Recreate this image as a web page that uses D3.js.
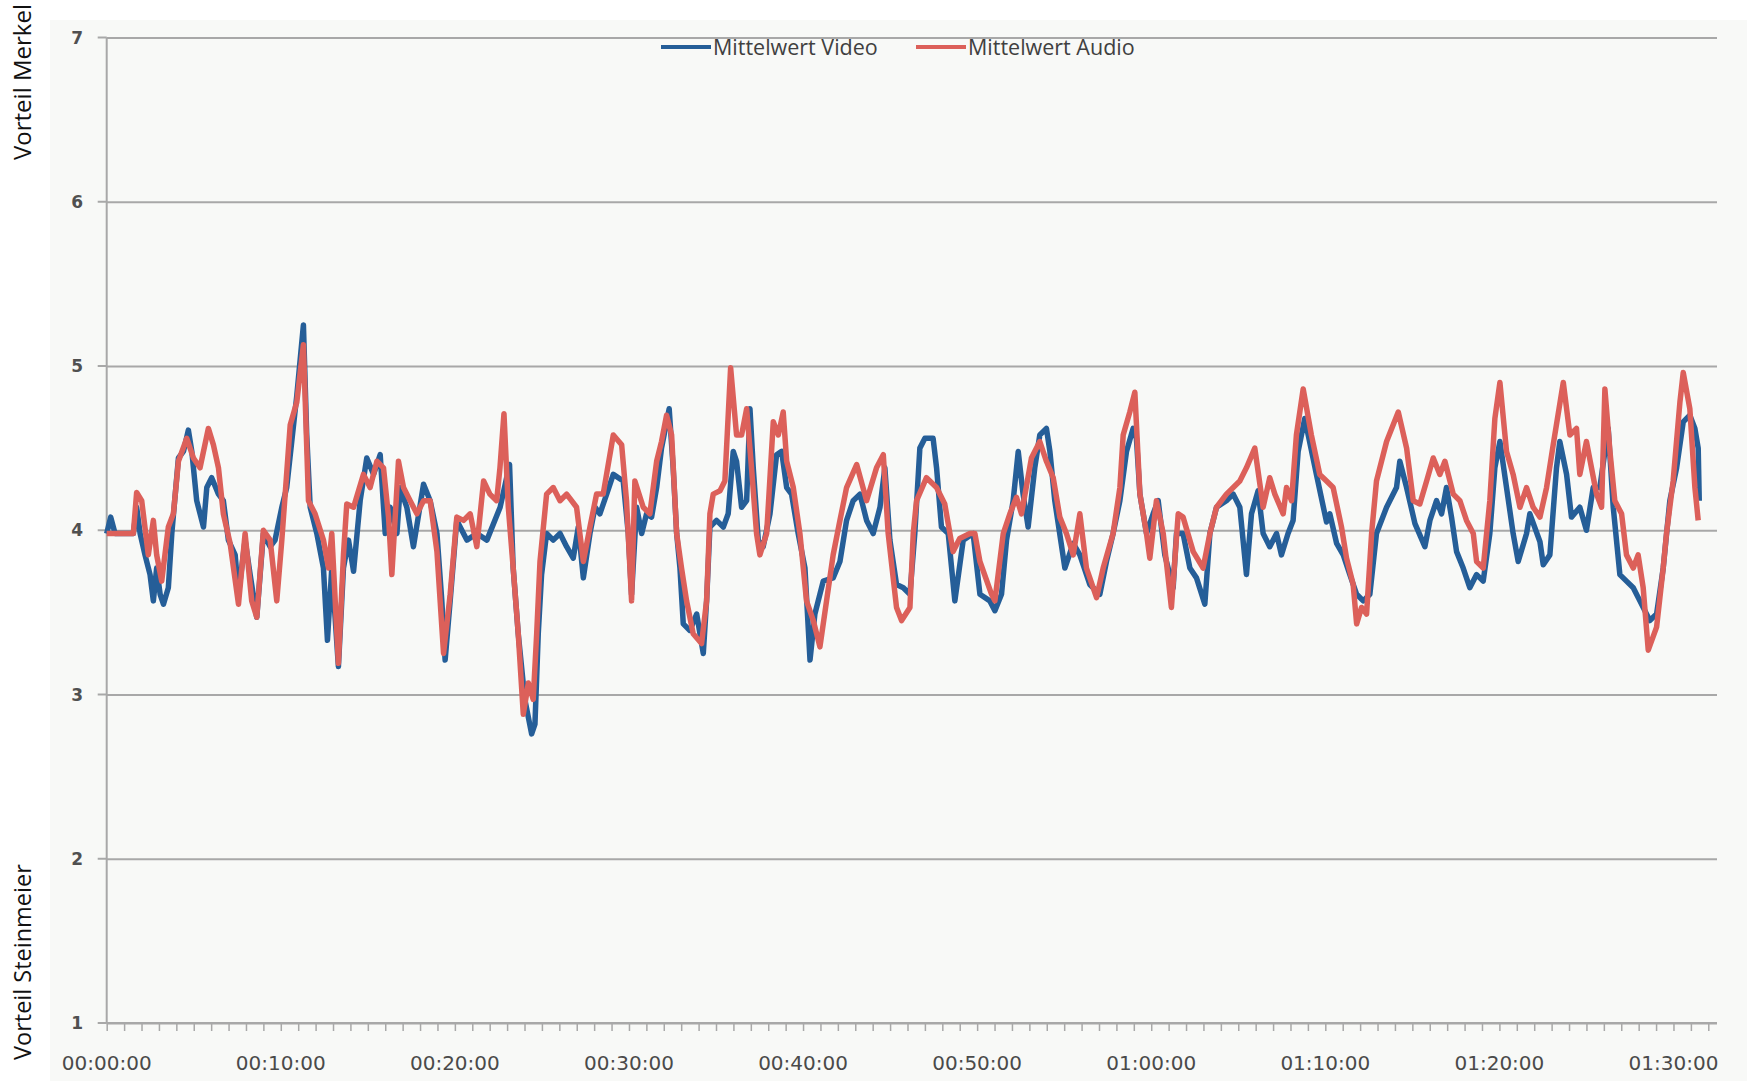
<!DOCTYPE html>
<html>
<head>
<meta charset="utf-8">
<script src="https://cdn.jsdelivr.net/npm/d3@7"></script>
<style>
  body { margin: 0; background: #fff; }
  svg { display: block; }
</style>
</head>
<body>
<svg id="chart"></svg>
<script>
// minutes since start, mean rating (1 = Steinmeier .. 7 = Merkel)
const video = [
  [0, 3.98], [0.23, 4.08], [0.48, 3.98], [1.53, 3.98], [1.72, 4.14], [1.92, 3.98], [2.2, 3.85], [2.49, 3.73],
  [2.68, 3.57], [2.87, 3.77], [3.07, 3.61], [3.26, 3.55], [3.54, 3.65], [3.74, 3.98], [4.12, 4.44], [4.41, 4.48],
  [4.69, 4.61], [4.89, 4.48], [5.17, 4.18], [5.56, 4.02], [5.75, 4.26], [6.03, 4.32], [6.42, 4.22], [6.7, 4.18],
  [6.99, 3.94], [7.38, 3.85], [7.57, 3.61], [7.95, 3.94], [8.24, 3.73], [8.62, 3.47], [9.0, 3.98], [9.39, 3.9],
  [9.67, 3.94], [10.06, 4.14], [10.34, 4.26], [10.63, 4.54], [10.92, 4.82], [11.3, 5.25], [11.49, 4.58], [11.69, 4.14],
  [12.07, 3.98], [12.45, 3.77], [12.68, 3.33], [12.93, 3.77], [13.31, 3.17], [13.6, 3.77], [13.89, 3.94], [14.18, 3.75],
  [14.56, 4.18], [14.94, 4.44], [15.33, 4.34], [15.71, 4.46], [16.0, 3.98], [16.28, 4.14], [16.67, 3.98], [16.86, 4.26],
  [17.24, 4.14], [17.62, 3.9], [18.2, 4.28], [18.58, 4.18], [18.97, 3.98], [19.25, 3.57], [19.44, 3.21], [19.73, 3.57],
  [20.11, 4.06], [20.69, 3.94], [21.26, 3.98], [21.84, 3.94], [22.6, 4.14], [23.14, 4.4], [23.35, 3.77], [23.64, 3.37],
  [24.02, 2.97], [24.41, 2.76], [24.6, 2.82], [24.79, 3.37], [24.98, 3.73], [25.27, 3.98], [25.65, 3.94], [26.04, 3.98],
  [26.42, 3.9], [26.8, 3.83], [27.09, 4.02], [27.38, 3.71], [27.76, 3.98], [28.05, 4.14], [28.33, 4.1], [28.72, 4.22],
  [29.1, 4.34], [29.67, 4.3], [29.96, 3.98], [30.15, 3.61], [30.44, 4.14], [30.73, 3.98], [31.01, 4.1], [31.3, 4.08],
  [31.59, 4.26], [31.87, 4.5], [32.31, 4.74], [32.54, 4.38], [32.74, 3.98], [32.93, 3.77], [33.12, 3.43], [33.5, 3.39],
  [33.89, 3.49], [34.27, 3.25], [34.46, 3.57], [34.65, 4.02], [35.03, 4.06], [35.42, 4.02], [35.7, 4.1], [35.99, 4.48],
  [36.18, 4.42], [36.47, 4.14], [36.76, 4.18], [36.95, 4.74], [37.14, 4.38], [37.43, 3.94], [37.71, 3.9], [38.1, 4.1],
  [38.48, 4.46], [38.77, 4.48], [39.06, 4.26], [39.34, 4.22], [39.72, 3.98], [40.11, 3.77], [40.4, 3.21], [40.68, 3.49],
  [41.16, 3.69], [41.73, 3.71], [42.12, 3.81], [42.5, 4.06], [42.88, 4.18], [43.27, 4.22], [43.65, 4.06], [44.03, 3.98],
  [44.42, 4.14], [44.7, 4.38], [44.99, 3.94], [45.37, 3.67], [45.76, 3.65], [46.14, 3.61], [46.42, 3.98], [46.71, 4.5],
  [47.0, 4.56], [47.47, 4.56], [47.67, 4.38], [47.95, 4.02], [48.34, 3.98], [48.72, 3.57], [49.2, 3.94], [49.77, 3.98],
  [50.16, 3.61], [50.73, 3.57], [51.02, 3.51], [51.4, 3.61], [51.69, 3.94], [52.07, 4.18], [52.36, 4.48], [52.64, 4.22],
  [52.93, 4.02], [53.31, 4.38], [53.6, 4.58], [53.98, 4.62], [54.18, 4.48], [54.46, 4.18], [55.04, 3.77], [55.52, 3.92],
  [55.9, 3.85], [56.47, 3.67], [57.05, 3.61], [57.43, 3.81], [57.81, 3.98], [58.2, 4.18], [58.58, 4.48], [58.96, 4.62],
  [59.15, 4.56], [59.35, 4.22], [59.73, 3.98], [60.11, 4.1], [60.4, 4.18], [60.78, 3.85], [61.26, 3.65], [61.45, 3.98],
  [61.83, 3.98], [62.22, 3.77], [62.6, 3.71], [63.08, 3.55], [63.37, 3.98], [63.75, 4.14], [64.32, 4.18], [64.71, 4.22],
  [65.09, 4.14], [65.47, 3.73], [65.76, 4.1], [66.14, 4.24], [66.43, 3.98], [66.81, 3.9], [67.2, 3.98], [67.48, 3.85],
  [67.86, 3.98], [68.15, 4.06], [68.44, 4.48], [68.82, 4.68], [69.49, 4.34], [70.07, 4.05], [70.26, 4.1], [70.65, 3.92],
  [71.03, 3.85], [71.41, 3.73], [71.8, 3.61], [72.18, 3.57], [72.56, 3.61], [72.94, 3.98], [73.52, 4.14], [74.09, 4.26],
  [74.28, 4.42], [74.67, 4.26], [75.15, 4.04], [75.72, 3.9], [76.01, 4.06], [76.39, 4.18], [76.68, 4.1], [76.96, 4.26],
  [77.25, 4.08], [77.54, 3.87], [77.92, 3.77], [78.3, 3.65], [78.69, 3.73], [79.07, 3.69], [79.45, 3.98], [79.74, 4.38],
  [80.03, 4.54], [80.41, 4.26], [80.79, 3.98], [81.08, 3.81], [81.56, 3.98], [81.75, 4.1], [82.33, 3.93], [82.52, 3.79],
  [82.9, 3.85], [83.28, 4.38], [83.47, 4.54], [83.86, 4.34], [84.14, 4.08], [84.62, 4.14], [85.0, 4.0], [85.39, 4.26],
  [85.77, 4.26], [86.25, 4.62], [86.54, 4.14], [86.92, 3.73], [87.3, 3.69], [87.69, 3.65], [88.07, 3.57], [88.64, 3.45],
  [89.03, 3.49], [89.41, 3.77], [89.79, 4.18], [90.18, 4.38], [90.56, 4.66], [90.94, 4.7], [91.23, 4.62], [91.42, 4.5],
  [91.48, 4.18]
]

const audio = [
  [0, 3.98], [1.53, 3.98], [1.72, 4.23], [2.01, 4.18], [2.39, 3.85], [2.68, 4.06], [2.87, 3.85], [3.16, 3.69],
  [3.54, 4.02], [3.83, 4.1], [4.12, 4.42], [4.6, 4.56], [4.98, 4.44], [5.36, 4.38], [5.84, 4.62], [6.13, 4.52],
  [6.42, 4.38], [6.7, 4.1], [7.09, 3.92], [7.57, 3.55], [7.95, 3.98], [8.33, 3.57], [8.62, 3.47], [9.0, 4.0],
  [9.39, 3.94], [9.77, 3.57], [10.06, 3.94], [10.54, 4.64], [10.92, 4.78], [11.3, 5.13], [11.59, 4.18], [11.97, 4.1],
  [12.45, 3.94], [12.74, 3.77], [12.93, 3.98], [13.31, 3.19], [13.6, 3.85], [13.79, 4.16], [14.18, 4.14], [14.75, 4.34],
  [15.13, 4.26], [15.52, 4.42], [15.9, 4.38], [16.19, 4.08], [16.38, 3.73], [16.76, 4.42], [17.05, 4.26], [17.43, 4.18],
  [17.82, 4.1], [18.2, 4.18], [18.58, 4.18], [18.97, 3.87], [19.35, 3.25], [19.73, 3.61], [20.11, 4.08], [20.5, 4.06],
  [20.88, 4.1], [21.26, 3.9], [21.65, 4.3], [22.01, 4.22], [22.4, 4.18], [22.59, 4.38], [22.82, 4.71], [23.07, 4.14],
  [23.35, 3.77], [23.64, 3.37], [23.93, 2.88], [24.22, 3.07], [24.5, 2.97], [24.7, 3.37], [24.89, 3.81], [25.27, 4.22],
  [25.65, 4.26], [26.04, 4.18], [26.42, 4.22], [26.99, 4.14], [27.38, 3.81], [27.76, 4.02], [28.14, 4.22], [28.52, 4.22],
  [29.1, 4.58], [29.58, 4.52], [29.86, 4.18], [30.15, 3.57], [30.34, 4.3], [30.82, 4.14], [31.2, 4.1], [31.59, 4.42],
  [31.87, 4.54], [32.16, 4.7], [32.45, 4.58], [32.74, 3.98], [33.02, 3.77], [33.31, 3.57], [33.69, 3.37], [34.17, 3.31],
  [34.46, 3.57], [34.65, 4.1], [34.84, 4.22], [35.23, 4.24], [35.51, 4.3], [35.84, 4.99], [36.18, 4.58], [36.47, 4.58],
  [36.76, 4.74], [37.04, 4.38], [37.33, 3.98], [37.52, 3.85], [37.91, 3.98], [38.29, 4.66], [38.58, 4.58], [38.86, 4.72],
  [39.06, 4.42], [39.44, 4.26], [39.82, 3.98], [40.2, 3.57], [40.59, 3.45], [40.97, 3.29], [41.35, 3.57], [41.73, 3.85],
  [42.12, 4.06], [42.5, 4.26], [43.08, 4.4], [43.65, 4.18], [44.22, 4.38], [44.61, 4.46], [44.89, 3.98], [45.37, 3.53],
  [45.66, 3.45], [46.14, 3.53], [46.33, 3.98], [46.52, 4.18], [47.09, 4.32], [47.67, 4.26], [48.14, 4.16], [48.62, 3.87],
  [49.0, 3.95], [49.58, 3.98], [49.87, 3.98], [50.16, 3.81], [50.83, 3.61], [51.02, 3.57], [51.5, 3.98], [51.88, 4.1],
  [52.26, 4.2], [52.55, 4.1], [53.12, 4.44], [53.6, 4.54], [53.98, 4.42], [54.37, 4.32], [54.75, 4.08], [55.13, 3.98],
  [55.52, 3.85], [55.9, 4.1], [56.28, 3.77], [56.86, 3.59], [57.24, 3.77], [57.81, 3.98], [58.2, 4.26], [58.39, 4.58],
  [58.77, 4.72], [59.06, 4.84], [59.35, 4.22], [59.73, 3.98], [59.92, 3.83], [60.3, 4.18], [60.69, 3.98], [61.16, 3.53],
  [61.55, 4.1], [61.83, 4.08], [62.41, 3.87], [62.98, 3.77], [63.37, 3.98], [63.75, 4.14], [64.32, 4.22], [64.71, 4.26],
  [65.09, 4.3], [65.47, 4.38], [65.95, 4.5], [66.43, 4.14], [66.81, 4.32], [67.1, 4.22], [67.58, 4.1], [67.77, 4.26],
  [68.06, 4.18], [68.34, 4.58], [68.73, 4.86], [69.2, 4.58], [69.68, 4.34], [70.07, 4.3], [70.45, 4.26], [70.93, 4.02],
  [71.22, 3.83], [71.6, 3.67], [71.8, 3.43], [72.08, 3.53], [72.37, 3.49], [72.66, 3.98], [72.94, 4.3], [73.52, 4.54],
  [74.19, 4.72], [74.67, 4.5], [75.05, 4.18], [75.43, 4.16], [75.82, 4.3], [76.2, 4.44], [76.58, 4.34], [76.87, 4.42],
  [77.35, 4.22], [77.73, 4.18], [78.11, 4.06], [78.5, 3.98], [78.69, 3.81], [79.07, 3.77], [79.45, 4.18], [79.74, 4.68],
  [80.03, 4.9], [80.41, 4.48], [80.79, 4.34], [81.18, 4.14], [81.56, 4.26], [81.94, 4.14], [82.33, 4.08], [82.71, 4.26],
  [83.09, 4.52], [83.67, 4.9], [84.05, 4.58], [84.43, 4.62], [84.62, 4.34], [85.0, 4.54], [85.58, 4.22], [85.87, 4.14],
  [86.06, 4.86], [86.35, 4.48], [86.63, 4.18], [87.02, 4.1], [87.3, 3.85], [87.69, 3.77], [87.97, 3.85], [88.26, 3.65],
  [88.55, 3.27], [89.03, 3.41], [89.41, 3.77], [89.6, 3.98], [89.98, 4.3], [90.37, 4.78], [90.56, 4.96], [90.94, 4.74],
  [91.23, 4.26], [91.42, 4.06]
]

const series = [
  { name: 'Mittelwert Video', data: video, color: '#255e98' },
  { name: 'Mittelwert Audio', data: audio, color: '#dc605a' }
]

const yTicks = [1, 2, 3, 4, 5, 6, 7]
const xLabels = ['00:00:00', '00:10:00', '00:20:00', '00:30:00', '00:40:00', '00:50:00',
                 '01:00:00', '01:10:00', '01:20:00', '01:30:00']

const W = 1747
const H = 1081
const plotLeft = 106.7
const plotRight = 1717
const plotTop = 37.5
const plotBottom = 1023

const svg = d3.select('#chart')
    .attr('width', W)
    .attr('height', H)

// chart area
svg.append('rect')
    .attr('x', 50)
    .attr('y', 20)
    .attr('width', W - 50)
    .attr('height', H - 20)
    .attr('fill', '#f8f9f7')

const x = d3.scaleLinear()
    .domain([0, 92.5])
    .range([plotLeft, plotRight])

const y = d3.scaleLinear()
    .domain([1, 7])
    .range([plotBottom, plotTop])

// horizontal gridlines + y ticks
svg.append('g')
    .attr('transform', `translate(${plotLeft}, 0)`)
    .call(d3.axisLeft(y).tickValues(yTicks).tickSize(-(plotRight - plotLeft)).tickFormat(''))
    .call(g => g.select('.domain').remove())
    .call(g => g.selectAll('.tick line').attr('stroke', '#a8a8a8').attr('stroke-width', 2))

svg.append('g')
    .selectAll('line')
    .data(yTicks)
    .enter()
    .append('line')
    .attr('x1', plotLeft - 9)
    .attr('x2', plotLeft)
    .attr('y1', d => y(d))
    .attr('y2', d => y(d))
    .attr('stroke', '#a8a8a8')
    .attr('stroke-width', 2)

svg.append('g')
    .selectAll('text')
    .data(yTicks)
    .enter()
    .append('text')
    .text(d => d)
    .attr('x', 83)
    .attr('y', d => y(d) + 6)
    .attr('text-anchor', 'end')
    .style('font', 'bold 17px "DejaVu Sans"')
    .style('fill', '#505050')

// x axis with minute ticks
const xAxis = d3.axisBottom(x)
    .tickValues(d3.range(0, 93, 1))
    .tickSize(8)
    .tickFormat('')

svg.append('g')
    .attr('transform', `translate(0, ${plotBottom})`)
    .call(xAxis)
    .call(g => g.select('.domain').attr('d', `M${plotLeft},0H${plotRight}`).attr('stroke', '#a8a8a8').attr('stroke-width', 2))
    .call(g => g.selectAll('.tick line').attr('stroke', '#a8a8a8').attr('stroke-width', 1.5))

svg.append('line')
    .attr('x1', plotLeft)
    .attr('x2', plotLeft)
    .attr('y1', plotTop)
    .attr('y2', plotBottom)
    .attr('stroke', '#a8a8a8')
    .attr('stroke-width', 2)

svg.append('g')
    .selectAll('text')
    .data(xLabels)
    .enter()
    .append('text')
    .text(d => d)
    .attr('x', (d, i) => x(i * 10))
    .attr('y', 1070)
    .attr('text-anchor', 'middle')
    .style('font', '20px "DejaVu Sans"')
    .style('fill', '#4a4a4a')

// lines
const line = d3.line()
    .x(d => x(d[0]))
    .y(d => y(d[1]))

svg.append('g')
    .selectAll('path')
    .data(series)
    .enter()
    .append('path')
    .attr('d', d => line(d.data))
    .attr('fill', 'none')
    .attr('stroke', d => d.color)
    .attr('stroke-width', 5.5)
    .attr('stroke-linejoin', 'round')

// legend
const legendX = [661, 916]
const legend = svg.append('g')
    .selectAll('g')
    .data(series)
    .enter()
    .append('g')
    .attr('transform', (d, i) => `translate(${legendX[i]}, 47)`)

legend.append('line')
    .attr('x1', 0)
    .attr('x2', 50)
    .attr('stroke', d => d.color)
    .attr('stroke-width', 4)

legend.append('text')
    .text(d => d.name)
    .attr('x', 52)
    .attr('y', 7.5)
    .style('font', '21.5px "Open Sans"')
    .style('fill', '#404040')

// side labels
svg.append('text')
    .text('Vorteil Merkel')
    .attr('transform', 'translate(31, 160) rotate(-90)')
    .style('font', '24px "Open Sans"')
    .style('fill', '#111')

svg.append('text')
    .text('Vorteil Steinmeier')
    .attr('transform', 'translate(31, 1060) rotate(-90)')
    .style('font', '23.5px "Open Sans"')
    .style('fill', '#111')
</script>
</body>
</html>
